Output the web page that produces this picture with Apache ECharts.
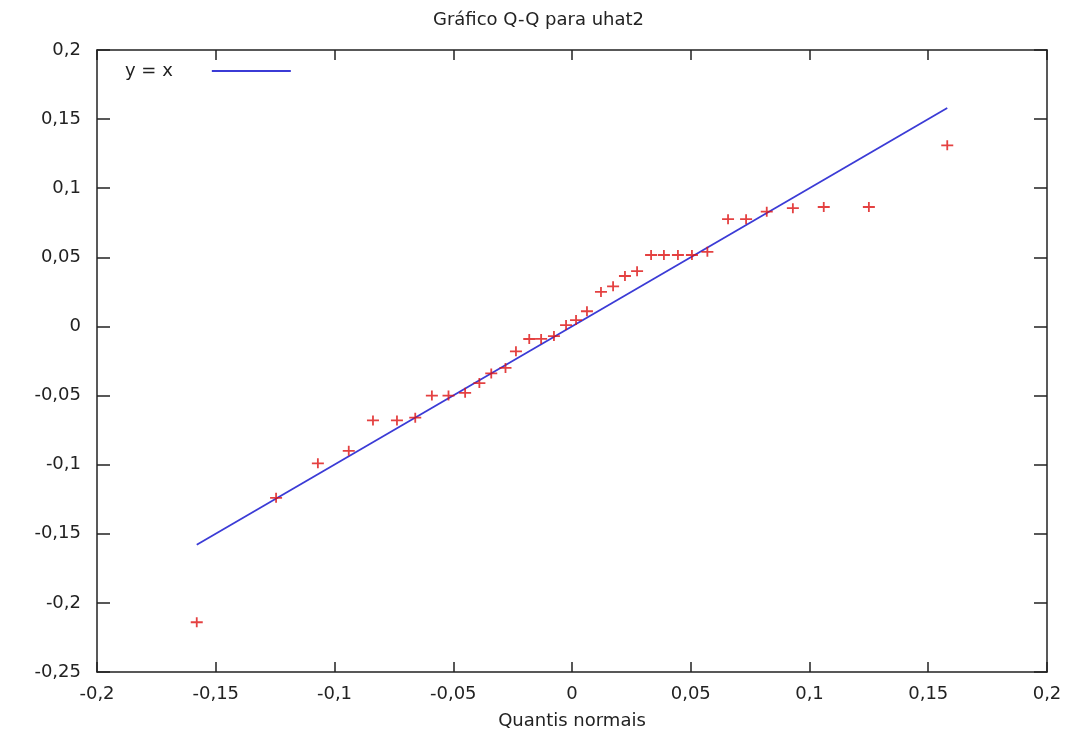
<!DOCTYPE html>
<html>
<head>
<meta charset="utf-8">
<script src="https://cdn.jsdelivr.net/npm/echarts@6/dist/echarts.min.js"></script>
<style>
html,body{margin:0;padding:0;background:#fff;}
#chart{width:1077px;height:738px;}
</style>
</head>
<body>
<div id="chart"></div>
<script>
// Normal quantiles (x) and sample quantiles of uhat2 (y)
const quantX = [-0.158, -0.1246, -0.107, -0.094, -0.0838, -0.0737, -0.066, -0.059, -0.052, -0.045, -0.039, -0.034, -0.028, -0.0236, -0.018, -0.013, -0.0076, -0.0025,
                0.0017, 0.0063, 0.0122, 0.0173, 0.0223, 0.0274, 0.0333, 0.0387, 0.0446, 0.0505, 0.057, 0.0657, 0.0733, 0.082, 0.093, 0.106, 0.125, 0.158];
const quantY = [-0.214, -0.124, -0.099, -0.090, -0.068, -0.068, -0.066, -0.050, -0.050, -0.048, -0.041, -0.034, -0.030, -0.018, -0.0091, -0.009, -0.007, 0.001,
                0.0046, 0.011, 0.025, 0.029, 0.0365, 0.040, 0.0517, 0.0517, 0.0517, 0.0517, 0.054, 0.0776, 0.0776, 0.083, 0.0856, 0.0864, 0.0864, 0.131];
// Reference line y = x
const refLineX = [-0.158, 0.158];
const refLineY = [-0.158, 0.158];

const titleText = 'Gráfico Q-Q para uhat2';
const xAxisName = 'Quantis normais';
const legendName = 'y = x';

const font = "'DejaVu Sans', Verdana, sans-serif";
const fs = 18;
const textColor = '#222';
const fmt = v => String(Math.round(v * 1000) / 1000).replace('.', ',');

const scatterData = quantX.map((x, i) => [x, quantY[i]]);
const lineData = refLineX.map((x, i) => [x, refLineY[i]]);

const axisLine = {show: true, onZero: false, lineStyle: {color: '#222', width: 1.5}};
const tickX = {show: true, inside: true, length: 10, lineStyle: {color: '#222', width: 1.5}};
const tickY = {show: true, inside: true, length: 13, lineStyle: {color: '#222', width: 1.5}};

const chart = echarts.init(document.getElementById('chart'));
chart.setOption({
  animation: false,
  backgroundColor: '#fff',
  title: {
    text: titleText, left: 'center', top: 6,
    textStyle: {fontFamily: font, fontSize: fs, fontWeight: 'normal', color: textColor}
  },
  legend: {
    left: 120, top: 57, align: 'right',
    itemWidth: 79, itemHeight: 2, icon: 'rect',
    data: [{name: legendName, itemStyle: {color: '#3b3bd6'}}],
    textStyle: {fontFamily: font, fontSize: fs, color: textColor, padding: [0, 34, 0, 0]}
  },
  grid: {left: 97, right: 30, top: 50, bottom: 66, containLabel: false},
  xAxis: [{
    type: 'value', min: -0.2, max: 0.2, interval: 0.05, position: 'bottom',
    name: xAxisName, nameLocation: 'middle', nameGap: 40,
    nameTextStyle: {fontFamily: font, fontSize: fs, color: textColor},
    axisLine: axisLine, axisTick: tickX,
    axisLabel: {fontFamily: font, fontSize: fs, color: textColor, margin: 13, formatter: fmt},
    splitLine: {show: false}
  }, {
    type: 'value', min: -0.2, max: 0.2, interval: 0.05, position: 'top',
    axisLine: axisLine, axisTick: tickX,
    axisLabel: {show: false}, splitLine: {show: false}
  }],
  yAxis: [{
    type: 'value', min: -0.25, max: 0.2, interval: 0.05, position: 'left',
    axisLine: axisLine, axisTick: tickY,
    axisLabel: {fontFamily: font, fontSize: fs, color: textColor, margin: 16, formatter: fmt},
    splitLine: {show: false}
  }, {
    type: 'value', min: -0.25, max: 0.2, interval: 0.05, position: 'right',
    axisLine: axisLine, axisTick: tickY,
    axisLabel: {show: false}, splitLine: {show: false}
  }],
  series: [{
    name: 'uhat2', type: 'scatter', xAxisIndex: 0, yAxisIndex: 0,
    data: scatterData,
    symbol: 'path://M0,4.1 H5.1 V0 H6.9 V4.1 H12 V5.9 H6.9 V10 H5.1 V5.9 H0 Z',
    symbolSize: [12, 10],
    itemStyle: {color: '#dd1111'},
    z: 3
  }, {
    name: legendName, type: 'line', xAxisIndex: 0, yAxisIndex: 0,
    data: lineData, showSymbol: false, symbol: 'none',
    lineStyle: {color: '#3b3bd6', width: 1.8},
    itemStyle: {color: '#3b3bd6'},
    z: 2
  }]
});
</script>
</body>
</html>
